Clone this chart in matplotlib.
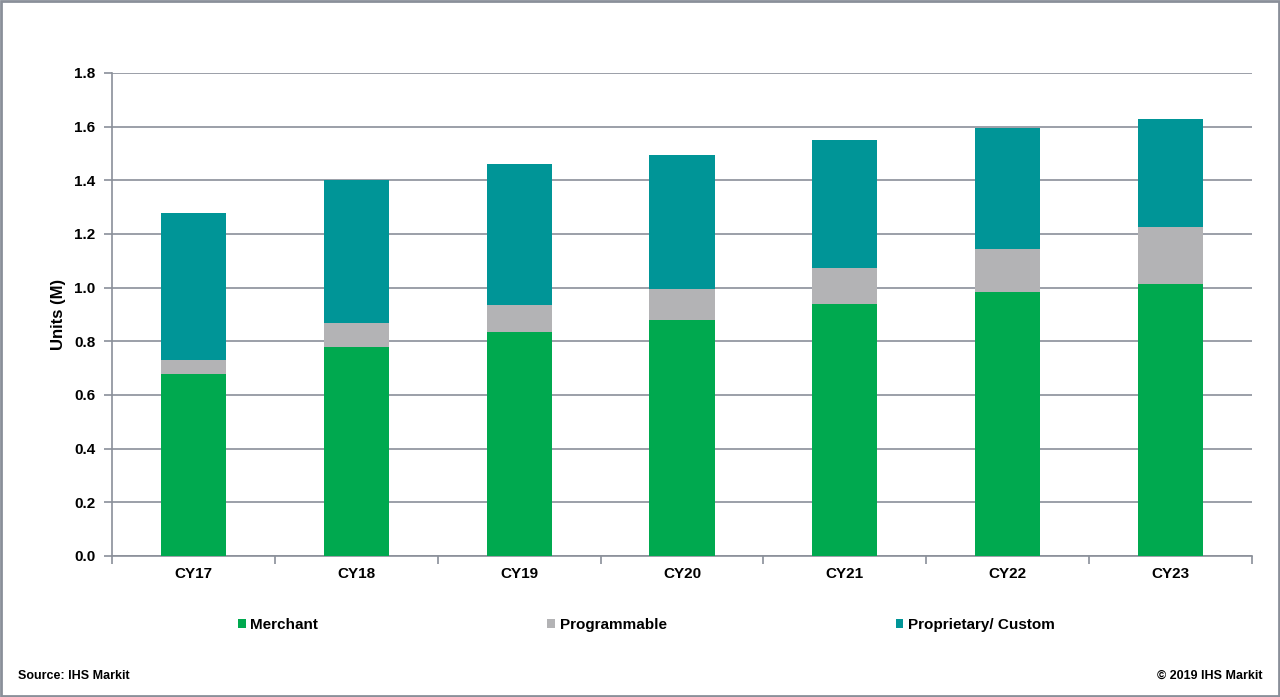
import matplotlib
matplotlib.use('Agg')
import matplotlib.pyplot as plt
from matplotlib.patches import Rectangle
import numpy as np

# data (units in millions)
years = ['CY17', 'CY18', 'CY19', 'CY20', 'CY21', 'CY22', 'CY23']
merchant = [0.68, 0.78, 0.835, 0.88, 0.94, 0.985, 1.015]
programmable = [0.05, 0.09, 0.10, 0.115, 0.135, 0.16, 0.21]
proprietary = [0.55, 0.53, 0.525, 0.50, 0.475, 0.45, 0.405]

series_names = ['Merchant', 'Programmable', 'Proprietary/ Custom']
colors = ['#00A94F', '#B3B3B5', '#009597']

plt.rcParams['font.family'] = ['Liberation Sans', 'DejaVu Sans']
plt.rcParams['font.weight'] = 'bold'

fig = plt.figure(figsize=(12.8, 6.97), dpi=100)
ax = fig.add_axes([0.0875, 0.2023, 0.8906, 0.693])

x = np.arange(len(years))
width = 0.4
bottom = np.zeros(len(years))
for vals, name, col in zip([merchant, programmable, proprietary], series_names, colors):
    ax.bar(x, vals, width, bottom=bottom, color=col, label=name, zorder=3)
    bottom = bottom + np.array(vals)

ax.set_xlim(-0.5, len(years) - 0.5)
ax.set_ylim(0, 1.8)
ax.set_yticks(np.arange(0, 1.81, 0.2))
ax.set_yticklabels(['%.1f' % v for v in np.arange(0, 1.81, 0.2)], fontsize=11, fontweight='bold')
ax.set_xticks(x)
ax.set_xticklabels(years, fontsize=11, fontweight='bold')
ax.set_ylabel('Units (M)', fontsize=12, fontweight='bold', labelpad=6)

grid_col = '#8A8F99'
ax.grid(axis='y', color=grid_col, linewidth=1.2, zorder=0)
for s in ['top', 'right']:
    ax.spines[s].set_visible(False)
ax.spines['left'].set_color(grid_col)
ax.spines['bottom'].set_color(grid_col)
ax.spines['left'].set_linewidth(1.2)
ax.spines['bottom'].set_linewidth(1.2)
ax.tick_params(axis='y', length=6, color=grid_col, width=1.2, pad=6)
ax.tick_params(axis='x', length=0, pad=8)
# category separators as minor ticks on the x axis
ax.set_xticks(np.arange(-0.5, len(years), 1.0), minor=True)
ax.tick_params(axis='x', which='minor', length=6, color=grid_col, width=1.2, direction='out')

fig.legend(loc='center', bbox_to_anchor=(0.505, 0.103), ncol=3, frameon=False,
           handlelength=0.5, handleheight=0.5, handletextpad=0.3,
           columnspacing=15.0, prop={'size': 11, 'weight': 'bold'})

fig.text(0.014, 0.030, 'Source: IHS Markit', fontsize=9, fontweight='bold', va='center')
fig.text(0.986, 0.030, '\u00a9 2019 IHS Markit', fontsize=9, fontweight='bold', va='center', ha='right')

# grey frame round the whole picture
fig.patches.append(Rectangle((0.001, 0.001), 0.998, 0.998, transform=fig.transFigure,
                             fill=False, edgecolor='#8A8F99', linewidth=2))

fig.savefig('out.png', dpi=100)
